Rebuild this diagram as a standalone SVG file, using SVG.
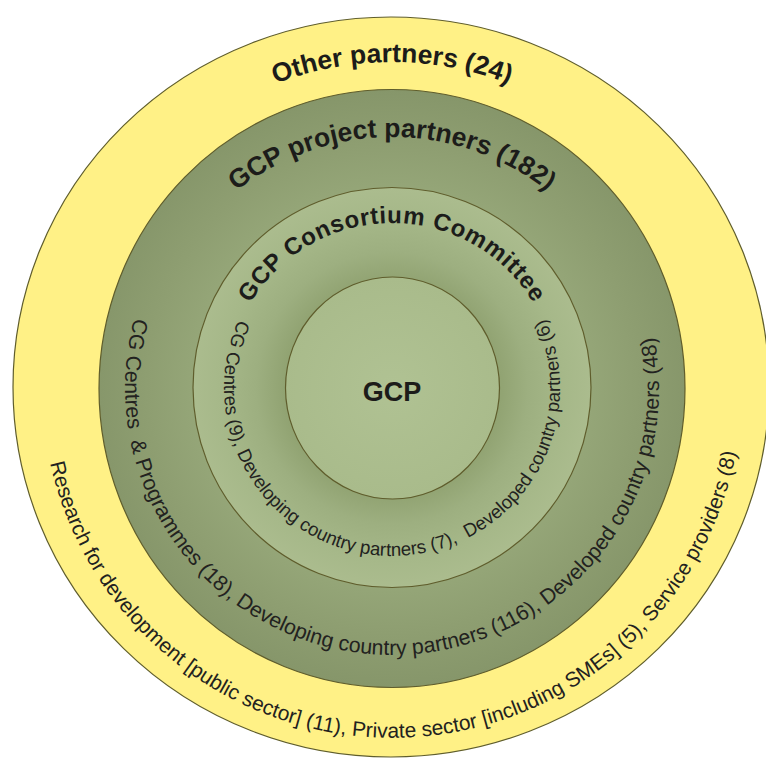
<svg xmlns="http://www.w3.org/2000/svg" xmlns:xlink="http://www.w3.org/1999/xlink" width="766" height="763" viewBox="0 0 766 763">
  <style>
    .ring { stroke: #5f5d2c; stroke-width: 1.2; }
    .title { font-family: "Liberation Sans", Arial, sans-serif; font-weight: bold; fill: #1c1c1a; }
    .label { font-family: "Liberation Sans", Arial, sans-serif; fill: #222220; }
  </style>
  <defs>
    <radialGradient id="gDark" gradientUnits="userSpaceOnUse" cx="392" cy="388" r="299">
      <stop offset="0.66" stop-color="#95a678"/>
      <stop offset="0.82" stop-color="#8e9e71"/>
      <stop offset="1" stop-color="#86966a"/>
    </radialGradient>
    <radialGradient id="gLight" gradientUnits="userSpaceOnUse" cx="392" cy="388" r="200">
      <stop offset="0.54" stop-color="#91a372"/>
      <stop offset="0.68" stop-color="#9daf80"/>
      <stop offset="0.86" stop-color="#a6b889"/>
      <stop offset="1" stop-color="#abbc8e"/>
    </radialGradient>
    <radialGradient id="gCore" gradientUnits="userSpaceOnUse" cx="392" cy="388" r="110">
      <stop offset="0" stop-color="#b0c293"/>
      <stop offset="1" stop-color="#a9bb8b"/>
    </radialGradient>
    <!-- arcs that carry the curved labels (centre 392,388) -->
    <path id="arcOther" d="M 66 388 A 326 326 0 0 1 718 388"/>
    <path id="arcProject" d="M 141 388 A 251 251 0 0 1 643 388"/>
    <path id="arcConsortium" d="M 227 388 A 165 165 0 0 1 557 388"/>
    <path id="arcLightLow" d="M 238.5 319.7 A 168 168 0 1 0 537.5 304"/>
    <path id="arcDarkLow" d="M 134.4 318 A 267 267 0 1 0 643 296.7"/>
    <path id="arcYellowLow" d="M 50.2 463.1 A 350 350 0 0 0 742 388"/>
  </defs>

  <rect width="766" height="763" fill="#ffffff"/>

  <g id="other-partners">
    <ellipse class="ring" cx="391" cy="387" rx="378" ry="370" fill="#fff186"/>
    <text class="title" font-size="26.5"><textPath xlink:href="#arcOther" startOffset="50%" text-anchor="middle">Other partners (24)</textPath></text>
    <text class="label" font-size="20.9"><textPath xlink:href="#arcYellowLow">Research for development [public sector] (11), Private sector [including SMEs] (5), Service providers (8)</textPath></text>
  </g>

  <g id="project-partners">
    <ellipse class="ring" cx="392" cy="388.5" rx="293" ry="299" fill="url(#gDark)"/>
    <text class="title" font-size="26.5"><textPath xlink:href="#arcProject" startOffset="50%" text-anchor="middle">GCP project partners (182)</textPath></text>
    <text class="label" font-size="21.3" xml:space="preserve"><textPath xlink:href="#arcDarkLow">CG Centres  &amp; Programmes (18), Developing country partners (116), Developed country partners (48)</textPath></text>
  </g>

  <g id="consortium-committee">
    <ellipse class="ring" cx="392" cy="387.5" rx="199" ry="200" fill="url(#gLight)"/>
    <text class="title" font-size="24" letter-spacing="0.7"><textPath xlink:href="#arcConsortium" startOffset="50%" text-anchor="middle">GCP Consortium Committee</textPath></text>
    <text class="label" font-size="18.6" xml:space="preserve"><textPath xlink:href="#arcLightLow">CG Centres (9), Developing country partners (7),  Developed country partners (6)</textPath></text>
  </g>

  <g id="gcp">
    <ellipse class="ring" cx="392.5" cy="388" rx="107" ry="111" fill="url(#gCore)"/>
    <text class="title" x="392" y="401" font-size="27" text-anchor="middle">GCP</text>
  </g>
</svg>
